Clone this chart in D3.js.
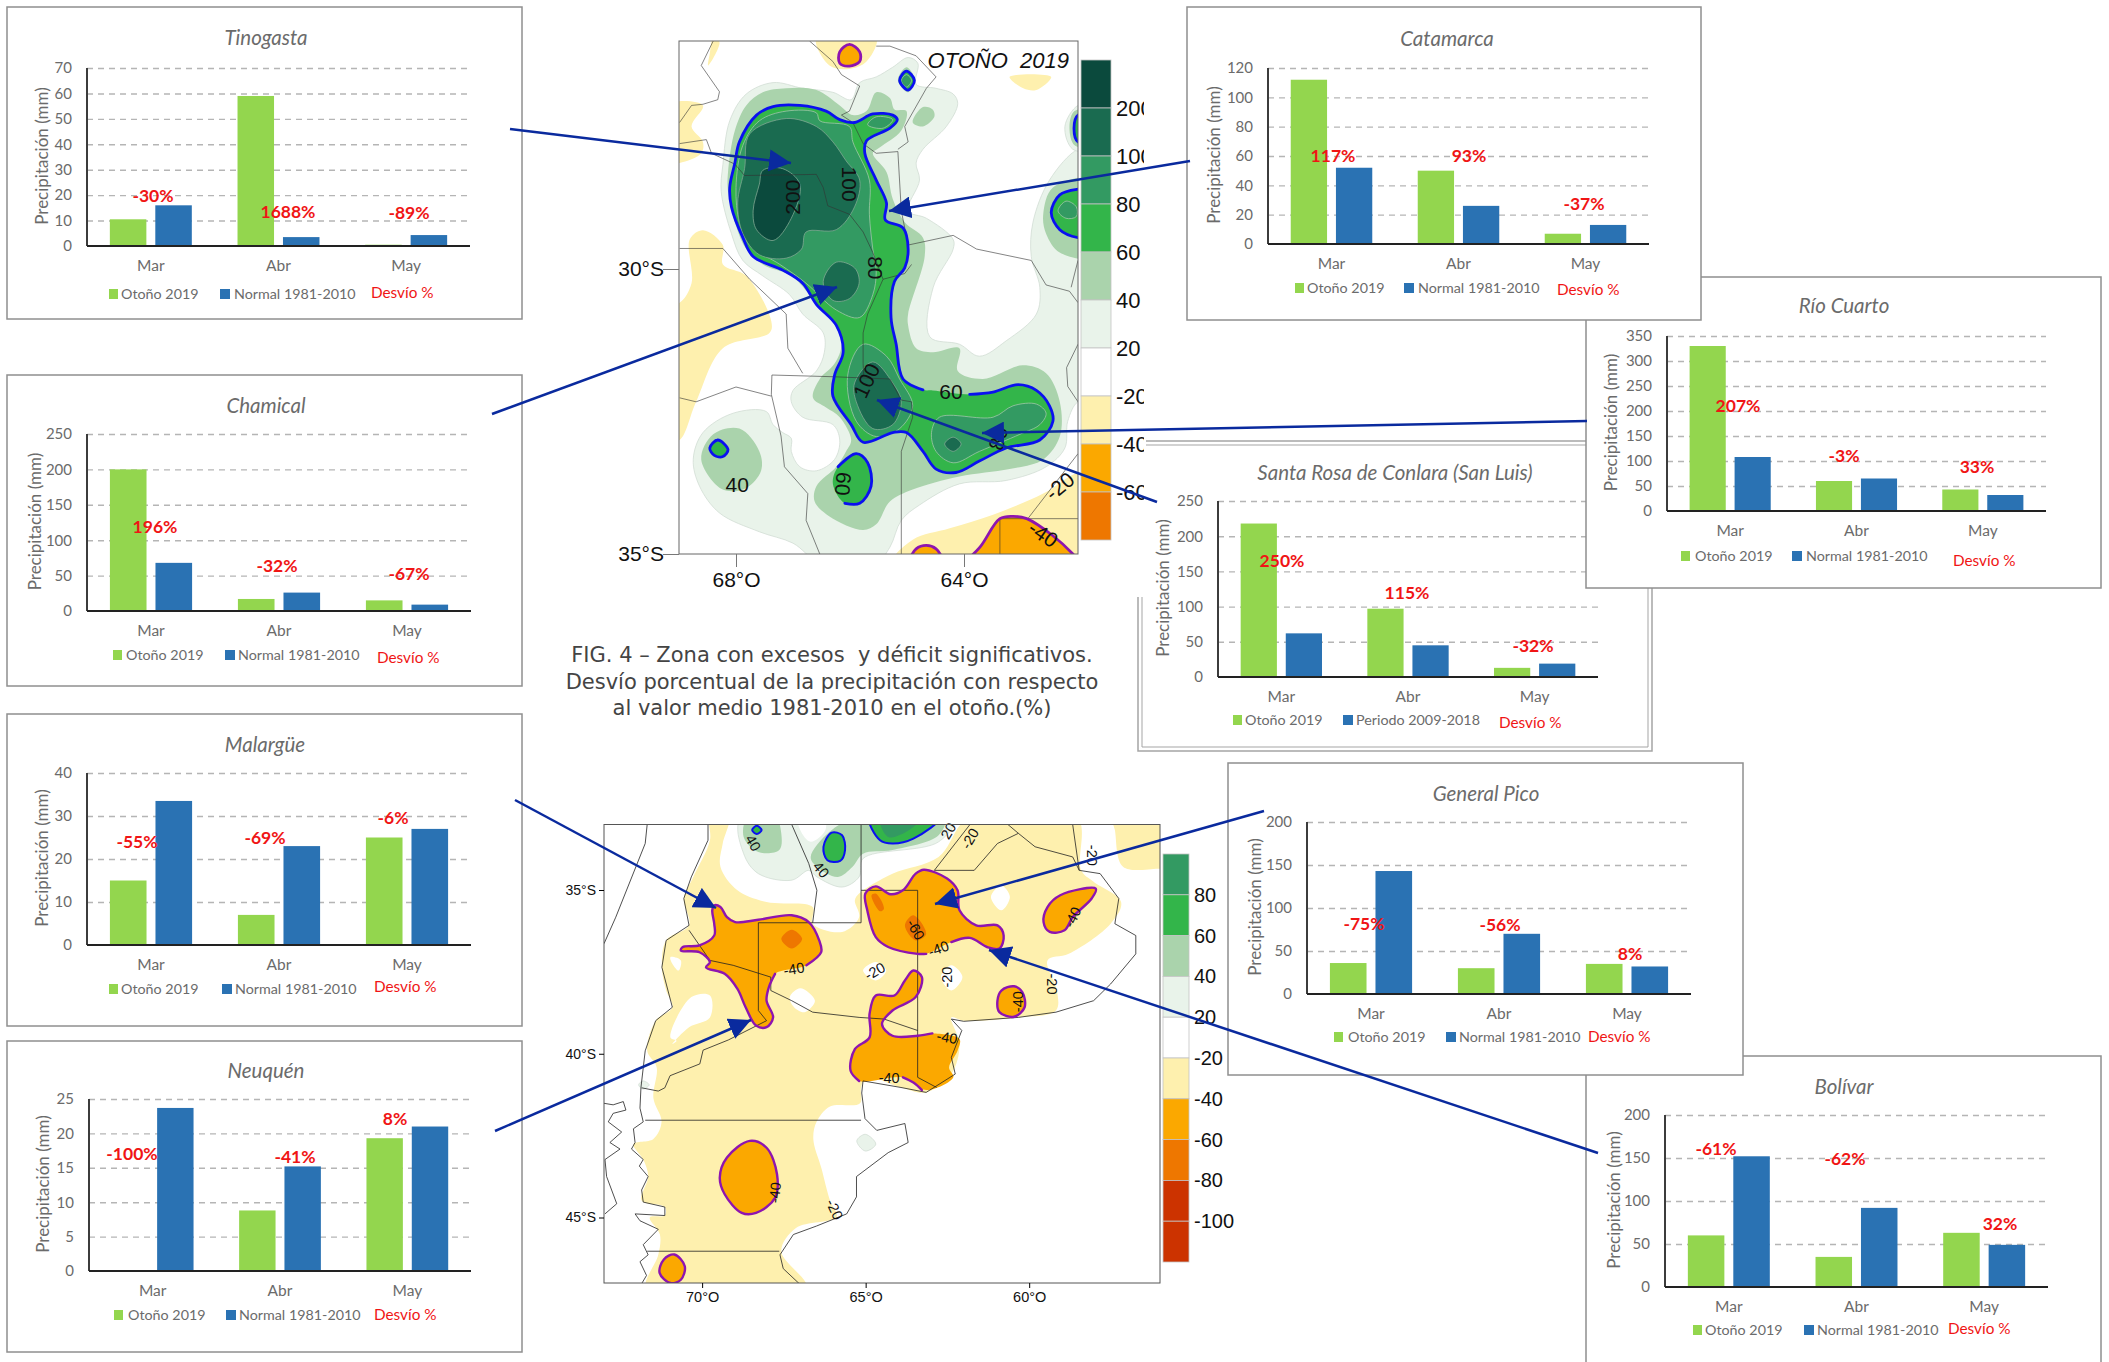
<!DOCTYPE html>
<html>
<head>
<meta charset="utf-8">
<title>Otoño 2019</title>
<script src="https://cdn.jsdelivr.net/npm/d3@7"></script>
<style>
html, body { margin: 0; padding: 0; background: #fff; }
svg { display: block; }
.panel text { font-family: Lato, sans-serif; fill: #6b6b6b; }
.panel .domain { display: none; }
.map text { font-family: "Liberation Sans", Arial, sans-serif; fill: #111; }
</style>
</head>
<body>
<svg width="2109" height="1362"></svg>
<script>
// ---- bar chart data
var months = ["Mar", "Abr", "May"];
var stations = ["Santa Rosa de Conlara (San Luis)", "Río Cuarto", "Catamarca", "Tinogasta", "Chamical", "Malargüe", "Neuquén", "Bolívar", "General Pico"];
var otono = [[218, 97, 13], [330, 60, 43], [112, 50, 7], [10.5, 59, 0.5], [200, 17, 15], [15, 7, 25], [0, 8.8, 19.3], [60, 35, 63], [36, 30, 35]];
var normal = [[62, 45, 19], [108, 65, 32], [52, 26, 13], [16, 3.5, 4.3], [68, 26, 9], [33.5, 23, 27], [23.7, 15.2, 21], [152, 92, 49], [143, 70, 32]];
var desvio = [["250%", "115%", "-32%"], ["207%", "-3%", "33%"], ["117%", "93%", "-37%"], ["-30%", "1688%", "-89%"], ["196%", "-32%", "-67%"], ["-55%", "-69%", "-6%"], ["-100%", "-41%", "8%"], ["-61%", "-62%", "32%"], ["-75%", "-56%", "8%"]];
var yMax = [250, 350, 120, 70, 250, 40, 25, 200, 200];
var yStep = [50, 50, 20, 10, 50, 10, 5, 50, 50];
var normalName = ["Periodo 2009-2018", "Normal 1981-2010", "Normal 1981-2010", "Normal 1981-2010", "Normal 1981-2010", "Normal 1981-2010", "Normal 1981-2010", "Normal 1981-2010", "Normal 1981-2010"];

// ---- where each panel sits on the page
var layout = [
	{box: [1146, 446, 1652, 751], plot: [1218, 501, 1598, 677], titleXY: [1395, 480], yTitleX: 1163, legend: [1233, 1245, 1343, 1356, 1499, 720, 723], labels: [[1282, 561], [1407, 593], [1533, 646]]},
	{box: [1586, 277, 2101, 588], plot: [1667, 336, 2046, 511], titleXY: [1844, 313], yTitleX: 1611, legend: [1681, 1695, 1792, 1806, 1953, 556, 561], labels: [[1738, 406], [1844, 456], [1977, 467]]},
	{box: [1187, 7, 1701, 320], plot: [1268, 68, 1649, 244], titleXY: [1447, 46], yTitleX: 1214, legend: [1295, 1307, 1404, 1418, 1557, 288, 290], labels: [[1333, 156], [1469, 156], [1584, 204]]},
	{box: [7, 7, 522, 319], plot: [87, 68, 470, 246], titleXY: [266, 45], yTitleX: 42, legend: [109, 121, 220, 234, 371, 294, 293], labels: [[153, 196], [288, 212], [409, 213]]},
	{box: [7, 375, 522, 686], plot: [87, 434, 471, 611], titleXY: [266, 413], yTitleX: 35, legend: [113, 126, 225, 238, 377, 655, 658], labels: [[155, 527], [277, 566], [409, 574]]},
	{box: [7, 714, 522, 1026], plot: [87, 773, 471, 945], titleXY: [265, 752], yTitleX: 42, legend: [109, 121, 222, 235, 374, 989, 987], labels: [[137, 842], [265, 838], [393, 818]]},
	{box: [7, 1041, 522, 1352], plot: [89, 1099, 471, 1271], titleXY: [266, 1078], yTitleX: 43, legend: [114, 128, 226, 239, 374, 1315, 1315], labels: [[132, 1154], [295, 1157], [395, 1119]]},
	{box: [1586, 1056, 2101, 1400], plot: [1665, 1115, 2048, 1287], titleXY: [1844, 1094], yTitleX: 1614, legend: [1693, 1705, 1804, 1817, 1948, 1330, 1329], labels: [[1716, 1149], [1845, 1159], [2000, 1224]]},
	{box: [1228, 763, 1743, 1075], plot: [1307, 822, 1691, 994], titleXY: [1486, 801], yTitleX: 1255, legend: [1334, 1348, 1446, 1459, 1588, 1037, 1037], labels: [[1364, 924], [1500, 925], [1630, 954]]}
];

// ---- map 1 (Otoño 2019, zoom), [longitude W, latitude S]
var m1Yellow = [
	[[66.59,25.95],[66.36,26.43],[66.01,26.49],[65.71,26.36],[65.54,25.95]],
	[[68.40,25.95],[68.46,26.22],[68.49,26.43],[68.29,26.02]],
	[[68.58,27.13],[68.78,27.50],[68.58,27.77],[68.61,27.97],[68.99,28.14],[69.22,28.14],[69.22,27.13]],
	[[69.22,30.59],[68.99,30.59],[68.78,30.25],[68.81,29.48],[68.58,29.32],[68.23,29.58],[68.23,29.92],[67.82,30.12],[67.38,30.92],[67.41,31.12],[68.23,31.39],[68.70,32.33],[68.99,33.0],[69.22,33.0]],
	[[63.20,26.63],[62.47,26.63],[62.73,26.86],[62.96,26.83]],
	[[65.25,35.15],[64.90,34.75],[64.25,34.55],[63.49,34.31],[62.61,33.94],[62.0,33.57],[61.74,33.57],[61.74,35.15]]
];
var m1Pale = [
	[[68.11,27.40],[67.82,26.93],[67.35,26.73],[66.83,26.83],[66.30,26.90],[65.98,27.03],[65.83,26.73],[65.54,26.63],[65.25,26.46],[64.98,26.29],[64.81,26.39],[64.84,26.76],[64.49,26.83],[64.19,26.93],[64.11,27.10],[64.31,27.50],[64.72,27.90],[64.84,28.14],[64.78,28.44],[64.98,28.98],[64.66,29.11],[64.19,29.48],[64.19,29.65],[64.54,30.32],[64.60,31.19],[64.08,31.32],[63.73,31.53],[63.26,31.26],[62.73,30.79],[62.67,30.32],[62.82,29.78],[62.79,29.18],[62.50,28.44],[62.0,27.90],[61.74,27.90],[61.74,32.33],[62.0,32.33],[62.18,32.67],[62.23,33.14],[62.56,33.47],[63.26,33.71],[64.08,33.77],[64.78,34.14],[65.10,34.41],[65.30,34.88],[65.54,35.15],[66.53,35.15],[67.0,34.81],[67.59,34.61],[68.29,34.28],[68.64,33.81],[68.75,33.34],[68.58,32.87],[68.05,32.53],[67.47,32.50],[67.35,32.73],[67.18,32.87],[67.03,32.97],[67.03,33.20],[66.88,33.47],[66.59,33.54],[66.27,33.34],[66.18,33.0],[66.30,32.73],[66.83,32.60],[67.03,32.33],[67.0,32.13],[66.59,31.79],[66.45,31.46],[66.47,31.12],[66.83,30.79],[67.06,30.45],[67.53,30.12],[67.88,29.85],[68.08,29.38],[68.26,28.64],[68.23,28.17]],
	[[62.0,27.13],[62.23,27.50],[62.09,27.90],[61.74,27.90],[61.74,27.13]]
];
var m1White = [[[65.25,33.27],[65.13,33.10],[64.98,33.27],[65.10,33.44]]];
var m1L40 = [
	[[68.02,27.57],[67.82,27.13],[67.53,26.90],[67.12,26.83],[66.59,26.86],[66.18,27.13],[65.95,27.30],[65.71,27.23],[65.54,26.90],[65.30,27.0],[65.22,27.20],[65.01,27.23],[65.10,27.57],[65.48,27.87],[65.60,27.97],[65.36,28.30],[65.25,28.77],[65.04,29.18],[64.72,29.45],[64.69,29.78],[64.98,30.79],[64.98,30.99],[64.84,31.39],[64.55,31.46],[64.08,31.39],[64.11,31.79],[63.67,31.93],[62.97,31.69],[62.56,31.83],[62.32,32.33],[62.32,32.94],[62.61,33.34],[63.20,33.51],[64.08,33.64],[64.90,33.87],[65.30,34.08],[65.54,34.48],[65.77,34.58],[66.36,34.34],[66.62,34.08],[66.59,33.81],[66.24,33.47],[66.07,33.20],[65.98,33.0],[66.18,32.60],[66.42,32.43],[66.65,32.26],[66.53,31.93],[66.27,31.66],[66.15,31.32],[66.30,30.92],[66.71,30.45],[67.03,30.12],[67.53,29.92],[67.82,29.65],[68.0,29.24],[68.14,28.64],[68.14,28.30]],
	[[62.61,29.04],[62.44,28.57],[61.74,28.44],[61.74,29.78],[62.32,29.71],[62.56,29.38]],
	[[62.15,27.50],[62.06,27.23],[61.74,27.23],[61.74,27.83],[62.06,27.83]],
	[[64.90,27.43],[64.72,27.16],[64.55,27.20],[64.52,27.33],[64.72,27.50]],
	[[65.16,26.69],[65.01,26.46],[64.87,26.66],[64.98,26.90]],
	[[68.61,33.34],[68.40,32.90],[67.94,32.80],[67.59,33.20],[67.56,33.54],[67.82,33.84],[68.23,33.87]]
];
var m1L60 = [
	[[63.90,32.20],[63.49,32.16],[63.05,32.03],[62.73,32.13],[62.50,32.40],[62.44,32.67],[62.67,33.0],[63.26,33.14],[63.73,33.37],[64.14,33.57],[64.49,33.51],[64.72,33.20],[65.01,32.87],[65.25,32.87],[65.77,33.04],[65.98,32.73],[66.30,32.23],[66.27,31.86],[66.12,31.46],[66.24,30.99],[66.59,30.62],[66.83,30.25],[67.18,30.02],[67.70,29.78],[67.88,29.45],[68.08,28.91],[68.11,28.57],[68.02,28.14],[67.94,27.77],[67.64,27.30],[67.35,27.15],[66.88,27.13],[66.42,27.23],[66.18,27.38],[65.92,27.43],[65.60,27.28],[65.25,27.30],[65.17,27.38],[65.30,27.53],[65.71,27.75],[65.74,27.97],[65.54,28.44],[65.36,28.84],[65.38,29.14],[65.07,29.28],[64.98,29.65],[65.04,29.98],[65.22,30.22],[65.28,30.85],[65.19,31.32],[65.07,31.93],[64.72,32.12],[64.55,32.13]],
	[[61.74,28.60],[62.0,28.60],[62.32,28.70],[62.47,29.01],[62.32,29.31],[62.0,29.45],[61.74,29.45]],
	[[61.74,27.30],[62.0,27.30],[62.07,27.53],[62.0,27.77],[61.74,27.77]],
	[[65.13,26.69],[65.01,26.53],[64.87,26.69],[64.98,26.86]],
	[[68.46,33.14],[68.32,33.0],[68.14,33.17],[68.23,33.29],[68.38,33.27]],
	[[66.21,33.47],[65.89,33.24],[65.69,33.40],[65.63,33.81],[65.83,34.11],[66.09,34.11],[66.30,33.77]]
];
var m1L60Drawn = [52, null, null, null, null, 6];
var m1L80 = [
	[[68.0,28.57],[67.88,27.83],[67.59,27.40],[67.12,27.23],[66.59,27.26],[66.53,27.40],[66.01,27.50],[65.95,27.77],[65.66,28.44],[65.66,29.04],[65.60,29.65],[65.54,30.05],[65.60,30.45],[65.83,30.85],[66.24,30.72],[66.77,30.25],[67.23,29.92],[67.76,29.58],[67.94,29.18]],
	[[65.69,27.47],[65.54,27.33],[65.25,27.38],[65.42,27.53]],
	[[66.04,31.86],[65.77,31.32],[65.36,31.53],[65.13,31.93],[64.90,32.40],[65.13,32.80],[65.54,32.94],[65.89,32.67]],
	[[64.57,32.87],[64.43,32.60],[63.49,32.60],[63.14,32.40],[62.73,32.37],[62.56,32.53],[62.67,32.73],[63.02,32.90],[63.73,33.20],[64.19,33.40],[64.49,33.20]],
	[[62.35,28.98],[62.21,28.81],[62.03,28.91],[62.03,29.08],[62.21,29.11]],
	[[65.10,26.69],[65.01,26.59],[64.92,26.69],[65.01,26.81]]
];
var m1L100 = [
	[[67.85,28.24],[67.76,27.63],[67.12,27.36],[66.59,27.50],[66.30,27.77],[66.07,28.10],[65.83,28.44],[65.92,28.91],[66.24,29.31],[66.77,29.35],[66.85,29.65],[67.12,29.81],[67.59,29.75],[67.88,29.38],[67.97,28.84]],
	[[66.47,30.22],[66.24,29.88],[65.92,29.98],[65.84,30.25],[66.01,30.52],[66.30,30.55]],
	[[65.92,32.0],[65.60,31.63],[65.25,32.0],[65.10,32.33],[65.25,32.73],[65.60,32.80],[65.89,32.33]],
	[[64.34,33.07],[64.19,32.95],[64.05,33.07],[64.19,33.20]]
];
var m1L200 = [[[67.70,28.98],[67.59,28.51],[67.53,28.27],[67.18,28.24],[66.88,28.51],[67.03,29.11],[67.35,29.50],[67.64,29.31]]];
var m1Orange = [
	[[66.18,26.19],[66.01,26.06],[65.83,26.19],[65.83,26.36],[66.01,26.44],[66.18,26.39]],
	[[64.0,35.15],[63.72,34.88],[63.37,34.38],[63.14,34.34],[62.90,34.38],[62.44,34.68],[62.09,35.0],[61.97,35.15]],
	[[64.98,35.15],[64.84,34.91],[64.66,34.85],[64.49,34.91],[64.34,35.15]]
];
var m1OrangeDrawn = [null, 8, 5];
var m1Borders = [
	[[68.99,27.80],[68.52,27.73],[68.43,27.97],[68.02,28.16],[67.85,28.36],[66.59,28.34],[66.47,28.57],[66.39,28.89],[66.01,29.04],[65.77,29.35],[65.60,29.71],[65.42,30.18],[65.69,30.79],[65.77,31.12],[65.77,31.66],[65.76,31.86]],
	[[66.71,26.0],[66.30,26.36],[66.15,26.59],[65.83,26.79],[66.01,27.23],[66.15,27.30],[65.95,27.43],[65.77,27.80],[65.54,27.97],[65.16,27.94],[65.10,28.98],[64.98,29.58],[64.19,29.41],[63.78,29.65],[62.82,29.85],[62.56,30.28],[62.15,30.39],[62.0,30.59]],
	[[65.54,26.09],[65.30,26.09],[64.84,26.26],[64.49,26.63],[64.66,26.83],[65.04,27.50],[64.98,27.77],[65.16,27.90]],
	[[68.99,29.64],[68.23,29.64],[67.76,30.18],[67.12,30.79],[67.09,31.39],[66.83,31.83]],
	[[67.37,31.86],[66.30,31.89],[65.30,31.93],[65.10,32.30],[64.92,32.33],[64.90,32.60],[65.10,33.20],[65.10,35.0]],
	[[67.37,31.86],[67.38,32.20],[67.21,32.93],[67.15,33.47],[66.74,33.94],[66.77,34.41],[66.53,35.0]],
	[[68.99,32.26],[68.70,32.33],[68.0,32.07],[67.38,32.23]],
	[[65.42,30.18],[65.04,30.08],[64.92,29.92]],
	[[62.0,29.85],[62.12,30.32]],
	[[62.0,31.32],[62.20,31.73],[62.18,32.06],[62.0,32.33]],
	[[63.37,35.0],[63.37,34.38],[62.0,34.38]],
	[[62.88,34.38],[62.0,33.24]],
	[[68.40,26.0],[68.61,26.43],[68.29,26.89],[68.32,27.03],[68.58,27.11],[68.78,27.13],[68.99,27.43]]
];
var m1Labels = [["200",67.0,28.74,-90],["100",66.01,28.51,90],["80",65.55,29.98,90],["100",65.71,31.96,-65],["60",64.23,32.16,0],["80",63.40,32.97,-75],["60",66.12,33.77,95],["40",67.98,33.79,0],["-20",62.32,33.81,-40],["-40",62.61,34.65,35]];

// ---- map 2 (south), same convention
var m2Yellow = [
	[[69.76,32.76],[69.76,33.48],[70.27,34.60],[70.56,35.26],[70.40,36.08],[71.10,36.54],[71.23,37.36],[71.10,38.07],[70.91,38.58],[71.42,38.99],[71.68,39.91],[71.39,40.41],[71.49,41.35],[71.24,42.08],[71.49,42.60],[72.10,42.76],[71.80,43.23],[71.65,43.75],[71.85,44.48],[71.14,44.68],[71.14,44.94],[71.60,45.0],[71.29,45.52],[71.34,46.14],[71.70,47.19],[66.81,47.15],[67.58,46.03],[67.13,45.32],[65.89,44.98],[66.09,44.48],[66.35,43.5],[66.60,42.60],[66.50,42.08],[66.09,41.61],[65.17,41.51],[65.14,41.03],[64.95,40.72],[63.92,41.03],[63.15,41.18],[62.38,40.62],[62.13,39.70],[62.38,38.89],[62.0,38.99],[60.33,38.89],[59.18,38.68],[59.15,38.07],[59.44,37.15],[58.79,36.95],[57.51,36.03],[57.19,35.37],[58.03,34.75],[58.41,34.40],[58.54,32.76],[61.81,32.76],[62.77,33.99],[64.18,34.50],[65.20,35.11],[65.33,35.32],[65.20,35.83],[65.72,36.28],[66.62,36.03],[66.62,35.52],[68.03,35.37],[68.92,35.01],[69.44,34.29],[69.37,33.58],[69.18,32.76]],
	[[57.45,32.76],[57.38,33.17],[57.13,34.29],[56.04,34.35],[55.72,34.35],[55.72,32.76]]
];
var m2White = [
	[[70.97,37.05],[70.65,37.15],[70.72,37.46],[70.91,37.25]],
	[[70.78,39.60],[70.97,39.50],[70.33,38.27],[69.76,38.22],[69.76,38.89],[70.40,39.19],[70.91,39.70]],
	[[65.08,37.46],[64.69,37.20],[64.37,37.46],[64.69,37.76]],
	[[62.70,37.66],[62.38,37.30],[62.04,37.66],[62.38,38.07]],
	[[61.17,35.21],[60.85,34.86],[60.59,35.21],[60.85,35.62]],
	[[67.32,38.27],[67.0,38.0],[66.55,38.38],[66.87,38.73],[67.19,38.58]]
];
var m2Pale = [
	[[68.79,32.76],[68.73,33.89],[68.28,34.50],[67.26,34.70],[66.74,34.40],[66.49,34.60],[65.72,34.91],[65.20,34.60],[65.08,34.04],[62.77,33.53],[62.26,32.76]],
	[[65.27,42.66],[65.01,42.46],[64.69,42.76],[65.01,42.97]],
	[[71.94,40.95],[71.81,40.83],[71.62,40.95],[71.81,41.08]]
];
var m2PaleHole = [[[67.06,32.76],[67.0,33.17],[66.68,33.53],[66.23,33.17],[66.29,32.76]]];
var m2L40 = [
	[[68.60,32.76],[68.73,33.38],[68.28,33.84],[67.64,33.78],[67.58,33.27],[67.77,32.76]],
	[[66.68,33.99],[66.10,33.22],[65.20,32.76],[62.58,32.76],[62.77,33.33],[64.18,33.78],[65.08,33.89],[65.40,34.29],[65.85,34.60],[66.49,34.29]]
];
var m2L60 = [
	[[68.47,33.17],[68.33,33.04],[68.18,33.17],[68.33,33.29]],
	[[66.29,33.68],[66.04,33.25],[65.72,33.33],[65.63,33.78],[65.78,34.11],[66.17,34.09]],
	[[64.88,32.76],[64.56,33.48],[64.18,33.58],[63.54,33.43],[62.70,32.76]]
];
var m2L80 = [[[64.56,32.76],[64.31,33.38],[63.67,33.17],[63.28,32.76]]];
var m2Orange = [
	[[67.77,37.56],[67.96,37.97],[68.03,38.38],[67.83,38.89],[68.03,39.19],[68.35,39.14],[68.67,38.58],[68.92,38.02],[69.31,37.56],[69.88,37.36],[69.76,37.20],[70.08,36.90],[70.65,36.85],[70.59,36.74],[70.08,36.69],[69.63,36.39],[69.63,36.03],[69.69,35.62],[69.63,35.47],[69.44,35.52],[69.24,35.83],[68.99,35.98],[68.28,35.91],[67.26,35.77],[66.74,35.98],[66.42,36.54],[66.36,36.90],[66.81,37.30]],
	[[62.38,36.59],[61.81,36.46],[61.29,36.74],[60.91,36.79],[60.78,36.39],[60.97,36.08],[61.62,36.08],[62.13,35.62],[62.19,35.01],[62.51,34.65],[63.22,34.38],[63.47,34.50],[63.86,35.01],[64.24,35.13],[64.69,34.89],[65.01,35.11],[64.95,35.62],[64.69,36.44],[64.31,36.74],[63.41,36.95],[63.15,36.95]],
	[[65.20,40.83],[65.46,40.52],[65.33,39.86],[64.88,39.50],[64.88,38.78],[64.69,38.22],[64.12,38.22],[63.80,37.76],[63.54,37.46],[63.28,37.66],[63.47,38.27],[64.18,38.68],[64.50,39.09],[64.18,39.45],[63.41,39.45],[62.96,39.38],[62.13,39.55],[62.19,39.91],[62.45,40.42],[62.32,40.72],[63.15,41.11],[63.86,40.72]],
	[[59.05,35.16],[57.96,34.96],[58.09,35.26],[58.67,35.83],[58.92,36.23],[59.37,36.28],[59.56,35.98],[59.44,35.52]],
	[[60.85,38.07],[60.46,37.94],[60.21,38.12],[60.14,38.58],[60.46,38.87],[60.91,38.73],[60.97,38.38]],
	[[68.54,42.66],[68.03,42.87],[67.71,43.68],[67.77,44.40],[68.35,44.86],[68.79,44.86],[69.31,44.29],[69.46,43.78],[69.24,43.17]],
	[[70.85,46.13],[70.53,46.49],[70.65,46.90],[70.97,47.0],[71.30,46.69],[71.17,46.28]]
];
var m2OrangeDrawn = [28, 21, 16, null, null, null, null];
var m2OrangeExtra = [[[63.86,40.72],[63.54,40.88],[63.28,41.11]]];
var m2Dark = [
	[[67.58,36.49],[67.26,36.21],[66.94,36.49],[67.26,36.79]],
	[[63.80,36.08],[63.54,35.77],[63.15,36.34],[63.47,36.54]],
	[[64.82,35.16],[64.69,35.11],[64.44,35.57],[64.56,35.65]]
];
var m2Borders = [
	[[69.82,33.0],[69.82,33.48],[70.33,34.60],[70.56,35.26],[70.40,36.08],[71.10,36.54],[71.23,37.36],[70.91,38.58],[71.42,38.99],[71.74,39.91],[71.87,41.03],[71.90,41.66],[71.80,42.08],[72.10,42.29],[72.05,42.71],[72.16,42.91],[71.80,43.23],[71.92,43.43],[71.65,43.75],[71.85,44.16],[71.80,44.53],[71.14,44.68],[71.14,44.94],[72.05,44.89],[71.90,45.10],[71.34,45.36],[71.80,45.83],[71.65,46.14],[71.90,46.35],[71.70,46.77],[71.95,47.19]],
	[[71.68,33.0],[71.74,33.58],[72.64,35.83],[73,36.64]],
	[[73.02,41.51],[72.72,41.56],[72.41,41.46],[72.33,41.72],[72.72,41.82],[72.87,42.08],[72.46,42.39],[72.82,42.71],[72.51,42.91],[72.97,43.23],[72.92,43.75],[72.61,44.58],[72.97,44.89]],
	[[68.03,38.99],[69.20,39.58],[69.97,39.89],[70.07,40.31],[70.98,40.67],[71.14,41.04],[71.34,41.14],[71.85,41.04]],
	[[60.65,33.0],[60.33,33.27],[59.82,33.68],[58.67,33.99],[58.47,34.40],[57.83,34.50],[57.26,35.26],[57.38,36.03],[56.74,36.39],[56.74,36.95],[57.51,37.87],[58.03,38.38],[59.18,38.73],[60.33,38.89],[62.0,39.01],[62.38,38.94],[62.06,39.29],[62.38,40.11],[62.26,40.62],[63.15,41.18],[63.92,41.03],[65.08,40.83],[65.12,41.2],[65.02,41.98],[64.66,42.34],[63.80,42.13],[63.70,42.71],[64.31,43.02],[65.28,43.75],[65.28,44.37],[65.58,44.89],[66.50,45.26],[67.21,45.52],[67.62,46.14],[67.52,46.56],[66.85,47.19]],
	[[58.67,33.0],[58.47,34.40]],
	[[65.14,33.0],[65.14,35.01],[63.41,35.01],[63.41,40.72],[62.83,41.03]],
	[[65.14,35.01],[65.14,36.0],[68.28,36.0],[68.28,38.68],[68.03,38.99]],
	[[66.62,36.0],[66.49,35.01],[66.74,34.19],[67.26,33.0]],
	[[61.81,33.0],[62.90,34.40],[61.68,34.40],[60.97,33.58],[60.33,33.27]],
	[[67.90,38.07],[67.26,38.38],[66.62,38.73],[65.20,38.89],[64.44,38.94],[63.41,39.29]],
	[[70.40,36.23],[69.76,37.15],[69.05,37.30],[67.90,37.66],[67.90,38.07]],
	[[71.74,42.03],[65.14,42.03]],
	[[71.68,46.03],[67.64,46.03]]
];
var m2Labels = [["40",68.44,33.56,60],["40",66.36,34.38,50],["20",62.47,33.20,-60],["-20",61.81,33.43,-60],["-20",58.09,33.94,90],["-40",67.19,37.41,-10],["-60",63.47,36.21,60],["-40",62.77,36.79,-20],["-40",58.67,35.83,-65],["-20",64.72,37.48,-30],["-20",62.51,37.66,-90],["-20",59.31,37.87,90],["-40",60.33,38.41,-90],["-40",62.51,39.50,10],["-40",64.28,40.75,0],["-40",67.77,44.24,-85],["-20",65.95,44.75,65]];

// ---- colour bars
var bar1Colors = ["#0b4a3d", "#1a6b50", "#339a62", "#33b54a", "#aad3ac", "#e9f3ea", "#ffffff", "#fef0ae", "#fba800", "#ee7700"];
var bar1Labels = ["200", "100", "80", "60", "40", "20", "-20", "-40", "-60"];
var bar2Colors = ["#339a62", "#33b54a", "#aad3ac", "#e9f3ea", "#ffffff", "#fef0ae", "#fba800", "#ee7700", "#cc3300", "#cc3300"];
var bar2Labels = ["80", "60", "40", "20", "-20", "-40", "-60", "-80", "-100"];

// ---- arrows between panels and maps
var arrows = [[510,129,791,163],[492,414,837,287],[1190,161,889,211],[1587,421,982,433],[1157,502,877,400],[515,800,716,908],[495,1131,751,1020],[1264,811,935,904],[1598,1153,989,950]];

var captionLines = ["FIG. 4 – Zona con excesos  y déficit significativos.", "Desvío porcentual de la precipitación con respecto", "al valor medio 1981-2010 en el otoño.(%)"];

var GREEN = "#93d64e", BLUE = "#2a72b3", RED = "#f01515";
var svg = d3.select("svg");

function drawPanel(i) {
	var b = layout[i].box, p = layout[i].plot, L = layout[i].legend;
	var g = svg.append("g").attr("class", "panel");

	var box = g.append("rect").attr("x", b[0]).attr("y", b[1]).attr("width", b[2] - b[0]).attr("height", b[3] - b[1]).attr("fill", "#fff");
	if (i == 0) {
		// Santa Rosa: frame is drawn apart, its top left corner is hidden behind the caption
		g.append("rect").attr("x", 1138).attr("y", 597).attr("width", 10).attr("height", 154).attr("fill", "#fff");
	} else {
		box.attr("stroke", "#8f8f8f").attr("stroke-width", 1.5);
	}

	var x = d3.scaleBand().domain(months).range([p[0], p[2]]);
	var y = d3.scaleLinear().domain([0, yMax[i]]).range([p[3], p[1]]);
	var ticks = d3.range(0, yMax[i] + 1, yStep[i]);

	var grid = g.append("g").attr("transform", "translate(" + p[0] + ",0)")
		.call(d3.axisLeft(y).tickValues(ticks.slice(1)).tickSize(p[0] - p[2]).tickFormat(""));
	grid.selectAll("line").attr("stroke", "#b5b5b5").attr("stroke-width", 1.4).attr("stroke-dasharray", "6,5");

	var barW = x.bandwidth() * 0.286, gap = x.bandwidth() * 0.07;
	months.forEach(function(m, j) {
		var c = x(m) + x.bandwidth() / 2;
		g.append("rect").attr("x", c - gap / 2 - barW).attr("y", y(otono[i][j])).attr("width", barW)
			.attr("height", y(0) - y(otono[i][j])).attr("fill", GREEN);
		g.append("rect").attr("x", c + gap / 2).attr("y", y(normal[i][j])).attr("width", barW)
			.attr("height", y(0) - y(normal[i][j])).attr("fill", BLUE);
	});

	var ax = g.append("g").attr("transform", "translate(" + p[0] + ",0)")
		.call(d3.axisLeft(y).tickValues(ticks).tickSize(0).tickPadding(15));
	ax.selectAll("text").style("font-size", "15px");
	var bx = g.append("g").attr("transform", "translate(0," + p[3] + ")")
		.call(d3.axisBottom(x).tickSize(0).tickPadding(14));
	bx.selectAll("text").style("font-size", "15.5px");

	g.append("line").attr("x1", p[0]).attr("x2", p[0]).attr("y1", p[1]).attr("y2", p[3]).attr("stroke", "#3c3c3c").attr("stroke-width", 2);
	g.append("line").attr("x1", p[0]).attr("x2", p[2]).attr("y1", p[3]).attr("y2", p[3]).attr("stroke", "#222").attr("stroke-width", 2);

	g.append("text").attr("x", layout[i].titleXY[0]).attr("y", layout[i].titleXY[1]).attr("text-anchor", "middle")
		.style("font-size", "20.5px").style("font-style", "italic").text(stations[i]);
	g.append("text").attr("transform", "translate(" + layout[i].yTitleX + "," + ((p[1] + p[3]) / 2 - 1) + ") rotate(-90)")
		.attr("text-anchor", "middle").attr("dy", ".35em").style("font-size", "17px").text("Precipitación (mm)");

	// legend
	g.append("rect").attr("x", L[0]).attr("y", L[5] - 5).attr("width", 9).attr("height", 10).attr("fill", GREEN);
	g.append("rect").attr("x", L[2]).attr("y", L[5] - 5).attr("width", 10).attr("height", 10).attr("fill", BLUE);
	g.append("text").attr("x", L[1]).attr("y", L[5]).attr("dy", ".35em").style("font-size", "14.3px").text("Otoño 2019");
	g.append("text").attr("x", L[3]).attr("y", L[5]).attr("dy", ".35em").style("font-size", "14.3px").text(normalName[i]);
	g.append("text").attr("x", L[4]).attr("y", L[6]).attr("dy", ".35em").style("font-size", "15.3px").style("fill", RED).text("Desvío %");

	layout[i].labels.forEach(function(pos, j) {
		g.append("text").attr("x", pos[0]).attr("y", pos[1]).attr("dy", ".35em").attr("text-anchor", "middle")
			.style("font-size", "17.5px").style("font-weight", 700).style("fill", RED).text(desvio[i][j]);
	});
}

// double frame of Santa Rosa, only the part that shows
function drawSantaRosaFrame() {
	var g = svg.append("g").attr("fill", "none").attr("stroke", "#a5a5a5");
	g.append("path").attr("stroke-width", 1.5).attr("d", d3.line()([[1146, 441], [1586, 441]]));
	g.append("path").attr("stroke-width", 1).attr("d", d3.line()([[1146, 445], [1586, 445]]));
	g.append("path").attr("stroke-width", 1.5).attr("d", d3.line()([[1138, 597], [1138, 751], [1652, 751], [1652, 588]]));
	g.append("path").attr("stroke-width", 1).attr("d", d3.line()([[1142, 597], [1142, 747], [1648, 747], [1648, 588]]));
}

function fillPolys(g, polys, color, line, edge) {
	polys.forEach(function(poly) {
		var path = g.append("path").attr("d", line(poly)).attr("fill", color);
		if (edge) path.attr("stroke", edge).attr("stroke-width", 0.8);
	});
}

function strokePolys(g, polys, drawn, color, w, lineClosed, lineOpen) {
	polys.forEach(function(poly, k) {
		var n = drawn ? drawn[k] : null;
		g.append("path").attr("d", n ? lineOpen(poly.slice(0, n)) : lineClosed(poly))
			.attr("fill", "none").attr("stroke", color).attr("stroke-width", w).attr("stroke-linecap", "round");
	});
}

function mapBase(id, x, y) {
	var g = svg.append("g").attr("class", "map");
	var r = [x.range()[0], y.range()[0], x.range()[1] - x.range()[0], y.range()[1] - y.range()[0]];
	g.append("rect").attr("x", r[0]).attr("y", r[1]).attr("width", r[2]).attr("height", r[3]).attr("fill", "#fff");
	svg.append("clipPath").attr("id", id).append("rect").attr("x", r[0]).attr("y", r[1]).attr("width", r[2]).attr("height", r[3]);
	var inner = g.append("g").attr("clip-path", "url(#" + id + ")");
	return {g: g, inner: inner, rect: r};
}

function lineMakers(x, y) {
	return {
		closed: d3.line().x(function(d) { return x(d[0]); }).y(function(d) { return y(d[1]); }).curve(d3.curveCatmullRomClosed.alpha(0.5)),
		open: d3.line().x(function(d) { return x(d[0]); }).y(function(d) { return y(d[1]); }).curve(d3.curveCatmullRom.alpha(0.5)),
		straight: d3.line().x(function(d) { return x(d[0]); }).y(function(d) { return y(d[1]); })
	};
}

function contourLabels(g, labels, x, y, size) {
	labels.forEach(function(l) {
		g.append("text").attr("transform", "translate(" + x(l[1]) + "," + y(l[2]) + ") rotate(" + l[3] + ")")
			.attr("text-anchor", "middle").attr("dy", ".35em").style("font-size", size + "px").text(l[0]);
	});
}

function colorBar(colors, labels, xr, yr, size, clipW) {
	var levels = colors.map(function(c, i) { return i; });
	var band = d3.scaleBand().domain(levels).range(yr);
	var g = svg.append("g").attr("class", "map");
	g.selectAll("rect").data(levels).enter().append("rect")
		.attr("x", xr[0]).attr("width", xr[1] - xr[0])
		.attr("y", function(d) { return band(d); }).attr("height", band.bandwidth())
		.attr("fill", function(d) { return colors[d]; }).attr("stroke", "#c4c4c4").attr("stroke-width", 0.8);
	var t = g.append("g");
	if (clipW) {
		svg.append("clipPath").attr("id", "barclip").append("rect").attr("x", xr[1]).attr("y", yr[0]).attr("width", clipW).attr("height", yr[1] - yr[0] + 20);
		t.attr("clip-path", "url(#barclip)");
	}
	labels.forEach(function(l, i) {
		t.append("text").attr("x", xr[1] + 5).attr("y", band(i + 1)).attr("dy", ".35em").style("font-size", size + "px").text(l);
	});
}

// ---- map 1
(function() {
	var x = d3.scaleLinear().domain([69, 62]).range([679, 1078]);
	var y = d3.scaleLinear().domain([26, 35]).range([41, 554]);
	var m = mapBase("clip1", x, y), l = lineMakers(x, y), c = m.inner;
	fillPolys(c, m1Yellow, "#fef0ae", l.closed);
	fillPolys(c, m1Pale, "#e9f3ea", l.closed, "#d2ddd4");
	fillPolys(c, m1White, "#fff", l.closed);
	fillPolys(c, m1L40, "#aad3ac", l.closed);
	fillPolys(c, m1L60, "#33b54a", l.closed);
	fillPolys(c, m1L80, "#339a62", l.closed, "#9fc7a8");
	fillPolys(c, m1L100, "#1a6b50", l.closed, "#7fa892");
	fillPolys(c, m1L200, "#0b4a3d", l.closed, "#7fa892");
	fillPolys(c, m1Orange, "#fba800", l.closed);
	m1Borders.forEach(function(b) {
		c.append("path").attr("d", l.straight(b)).attr("fill", "none").attr("stroke", "#333").attr("stroke-width", 0.6);
	});
	strokePolys(c, m1L60, m1L60Drawn, "#0a10f0", 2.8, l.closed, l.open);
	strokePolys(c, m1Orange, m1OrangeDrawn, "#8e14b0", 2.8, l.closed, l.open);
	contourLabels(m.g, m1Labels, x, y, 21);

	m.g.append("rect").attr("x", m.rect[0]).attr("y", m.rect[1]).attr("width", m.rect[2]).attr("height", m.rect[3])
		.attr("fill", "none").attr("stroke", "#666").attr("stroke-width", 1);
	var bottom = m.g.append("g").attr("transform", "translate(0," + y.range()[1] + ")")
		.call(d3.axisBottom(x).tickValues([68, 64]).tickSize(13).tickPadding(5).tickFormat(function(d) { return d + "°O"; }));
	var left = m.g.append("g").attr("transform", "translate(" + x.range()[0] + ",0)")
		.call(d3.axisLeft(y).tickValues([30, 35]).tickSize(16).tickPadding(0).tickFormat(function() { return ""; }));
	bottom.selectAll("text").style("font-size", "21px");
	bottom.select(".domain").remove();
	left.select(".domain").remove();
	bottom.selectAll("line").attr("stroke", "#777");
	left.selectAll("line").attr("stroke", "#777");
	[30, 35].forEach(function(d) {
		m.g.append("text").attr("x", 664).attr("y", y(d)).attr("dy", ".35em").attr("text-anchor", "end").style("font-size", "21px").text(d + "°S");
	});
	m.g.append("text").attr("x", 1069).attr("y", 68).attr("text-anchor", "end").style("font-size", "22px").style("font-style", "italic").attr("xml:space", "preserve").text("OTOÑO  2019");
})();
colorBar(bar1Colors, bar1Labels, [1081, 1111], [60, 540], 22, 33);

// ---- map 2
(function() {
	var x = d3.scaleLinear().domain([73, 56]).range([604, 1160]);
	var y = d3.scaleLinear().domain([33, 47]).range([824.5, 1283]);
	var m = mapBase("clip2", x, y), l = lineMakers(x, y), c = m.inner;
	fillPolys(c, m2Yellow, "#fef0ae", l.closed);
	fillPolys(c, m2White, "#fff", l.closed);
	fillPolys(c, m2Pale, "#e9f3ea", l.closed, "#d2ddd4");
	fillPolys(c, m2PaleHole, "#fff", l.closed);
	fillPolys(c, m2L40, "#aad3ac", l.closed);
	fillPolys(c, m2L60, "#33b54a", l.closed);
	fillPolys(c, m2L80, "#339a62", l.closed);
	fillPolys(c, m2Orange, "#fba800", l.closed);
	fillPolys(c, m2Dark, "#ee7700", l.closed);
	m2Borders.forEach(function(b) {
		c.append("path").attr("d", l.straight(b)).attr("fill", "none").attr("stroke", "#222").attr("stroke-width", 0.8);
	});
	strokePolys(c, m2L60, null, "#0a10f0", 2, l.closed, l.open);
	strokePolys(c, m2Orange, m2OrangeDrawn, "#8e14b0", 2.4, l.closed, l.open);
	strokePolys(c, m2OrangeExtra, [3], "#8e14b0", 2.4, l.closed, l.open);
	contourLabels(m.g, m2Labels, x, y, 14.5);

	m.g.append("rect").attr("x", m.rect[0]).attr("y", m.rect[1]).attr("width", m.rect[2]).attr("height", m.rect[3])
		.attr("fill", "none").attr("stroke", "#555").attr("stroke-width", 1);
	var bottom = m.g.append("g").attr("transform", "translate(0," + y.range()[1] + ")")
		.call(d3.axisBottom(x).tickValues([70, 65, 60]).tickSize(5).tickPadding(4).tickFormat(function(d) { return d + "°O"; }));
	var left = m.g.append("g").attr("transform", "translate(" + x.range()[0] + ",0)")
		.call(d3.axisLeft(y).tickValues([35, 40, 45]).tickSize(5).tickPadding(3).tickFormat(function(d) { return d + "°S"; }));
	bottom.selectAll("text").style("font-size", "14.5px");
	left.selectAll("text").style("font-size", "14px");
	bottom.select(".domain").remove();
	left.select(".domain").remove();
})();
colorBar(bar2Colors, bar2Labels, [1163, 1189], [854, 1262], 20);

// ---- caption
var cap = svg.append("g");
captionLines.forEach(function(t, i) {
	cap.append("text").attr("x", 832).attr("y", 662 + i * 26.5).attr("text-anchor", "middle").attr("xml:space", "preserve")
		.style("font-family", "'DejaVu Sans', sans-serif").style("font-size", "21px").style("fill", "#444").text(t);
});

// ---- panels, back to front
drawPanel(0);
drawSantaRosaFrame();
drawPanel(1);
drawPanel(2);
[3, 4, 5, 6, 7, 8].forEach(drawPanel);

// ---- arrows
svg.append("defs").append("marker").attr("id", "head").attr("markerUnits", "userSpaceOnUse")
	.attr("viewBox", "0 0 20 20").attr("refX", 20).attr("refY", 10).attr("markerWidth", 22).attr("markerHeight", 22).attr("orient", "auto")
	.append("path").attr("d", "M0,0L20,10L0,20Z").attr("fill", "#0a2a9e");
svg.append("g").selectAll("line").data(arrows).enter().append("line")
	.attr("x1", function(d) { return d[0]; }).attr("y1", function(d) { return d[1]; })
	.attr("x2", function(d) { return d[2]; }).attr("y2", function(d) { return d[3]; })
	.attr("stroke", "#0a2a9e").attr("stroke-width", 2.5).attr("marker-end", "url(#head)");
</script>
</body>
</html>
